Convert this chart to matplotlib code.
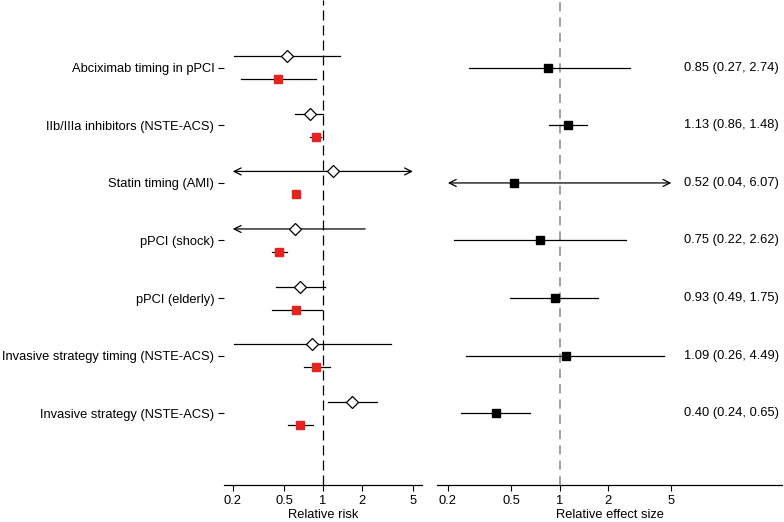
import numpy as np
import matplotlib
matplotlib.use('Agg')
import matplotlib.pyplot as plt
from matplotlib.ticker import FixedLocator, FixedFormatter, NullLocator

plt.rcParams['font.family'] = ['Liberation Sans', 'DejaVu Sans']
plt.rcParams['font.size'] = 9.3

# etudes, de haut en bas
etudes = ['Abciximab timing in pPCI', 'IIb/IIIa inhibitors (NSTE-ACS)', 'Statin timing (AMI)',
          'pPCI (shock)', 'pPCI (elderly)', 'Invasive strategy timing (NSTE-ACS)',
          'Invasive strategy (NSTE-ACS)']

# panneau gauche : losanges blancs
rr_a = [0.53, 0.79, 1.20, 0.61, 0.67, 0.83, 1.69]
rr_a_bas = [0.205, 0.61, 0.10, 0.15, 0.43, 0.205, 1.09]
rr_a_haut = [1.36, 1.00, 12.0, 2.13, 1.04, 3.35, 2.65]

# panneau gauche : carres rouges
rr_b = [0.45, 0.88, 0.62, 0.46, 0.62, 0.89, 0.67]
rr_b_bas = [0.23, 0.80, 0.59, 0.40, 0.40, 0.71, 0.54]
rr_b_haut = [0.89, 0.97, 0.66, 0.53, 0.99, 1.14, 0.84]

# panneau droit : taille d'effet relative
res = [0.85, 1.13, 0.52, 0.75, 0.93, 1.09, 0.40]
res_bas = [0.27, 0.86, 0.04, 0.22, 0.49, 0.26, 0.24]
res_haut = [2.74, 1.48, 6.07, 2.62, 1.75, 4.49, 0.65]

ticks = [0.2, 0.5, 1, 2, 5]
tick_lab = ['0.2', '0.5', '1', '2', '5']
clip_bas, clip_haut = 0.2, 5.0

rouge = '#e5231f'


def intervalle(ax, y, bas, haut, couleur='black'):
    # trace un IC, avec fleche si il sort de [0.2, 5]
    b = max(bas, clip_bas)
    h = min(haut, clip_haut)
    if bas < clip_bas or haut > clip_haut:
        if bas < clip_bas and haut > clip_haut:
            style = '<->'
        elif bas < clip_bas:
            style = '<-'
        else:
            style = '->'
        ax.annotate('', xy=(h, y), xytext=(b, y),
                    arrowprops=dict(arrowstyle=style + ',head_length=0.5,head_width=0.25',
                                    color=couleur, lw=0.9, shrinkA=0, shrinkB=0,
                                    mutation_scale=10), zorder=2)
    else:
        ax.plot([b, h], [y, y], color=couleur, lw=0.9, zorder=2)


def axe_x(ax, xlim, label):
    ax.set_xscale('log')
    ax.set_xlim(*xlim)
    ax.set_ylim(-0.25, 8.18)
    ax.xaxis.set_major_locator(FixedLocator(ticks))
    ax.xaxis.set_major_formatter(FixedFormatter(tick_lab))
    ax.xaxis.set_minor_locator(NullLocator())
    ax.tick_params(axis='x', length=4, width=0.8, pad=3)
    ax.set_xlabel(label, labelpad=2)
    for s in ['top', 'right', 'left']:
        ax.spines[s].set_visible(False)
    ax.spines['bottom'].set_linewidth(0.9)


fig = plt.figure(figsize=(7.84, 5.22), dpi=100)
ax1 = fig.add_axes([0.2857, 0.0709, 0.2526, 0.9291])
ax2 = fig.add_axes([0.5574, 0.0709, 0.4400, 0.9291])

n = len(etudes)
y = np.arange(n, 0, -1)
dec = 0.2

# panneau gauche
axe_x(ax1, (0.171, 5.88), 'Relative risk')
ax1.axvline(1, color='black', lw=0.9, dashes=(8, 4), zorder=1)
for i in range(n):
    intervalle(ax1, y[i] + dec, rr_a_bas[i], rr_a_haut[i])
    intervalle(ax1, y[i] - dec, rr_b_bas[i], rr_b_haut[i])
ax1.plot(rr_a, y + dec, 'D', ms=6.3, mfc='white', mec='black', mew=0.9, zorder=3, ls='none')
ax1.plot(rr_b, y - dec, 's', ms=5.3, mfc=rouge, mec=rouge, zorder=3, ls='none')
ax1.set_yticks(y)
ax1.set_yticklabels(etudes)
ax1.tick_params(axis='y', length=4, width=0.8, pad=3)

# panneau droit
axe_x(ax2, (0.171, 24.6), 'Relative effect size')
ax2.axvline(1, color='#888888', lw=1.1, dashes=(6, 4), zorder=1)
for i in range(n):
    intervalle(ax2, y[i], res_bas[i], res_haut[i])
    ax2.text(6.0, y[i], f'{res[i]:.2f} ({res_bas[i]:.2f}, {res_haut[i]:.2f})',
             ha='left', va='center')
ax2.plot(res, y, 's', ms=5.8, mfc='black', mec='black', zorder=3, ls='none')
ax2.set_yticks([])

fig.savefig('out.png', dpi=100)
